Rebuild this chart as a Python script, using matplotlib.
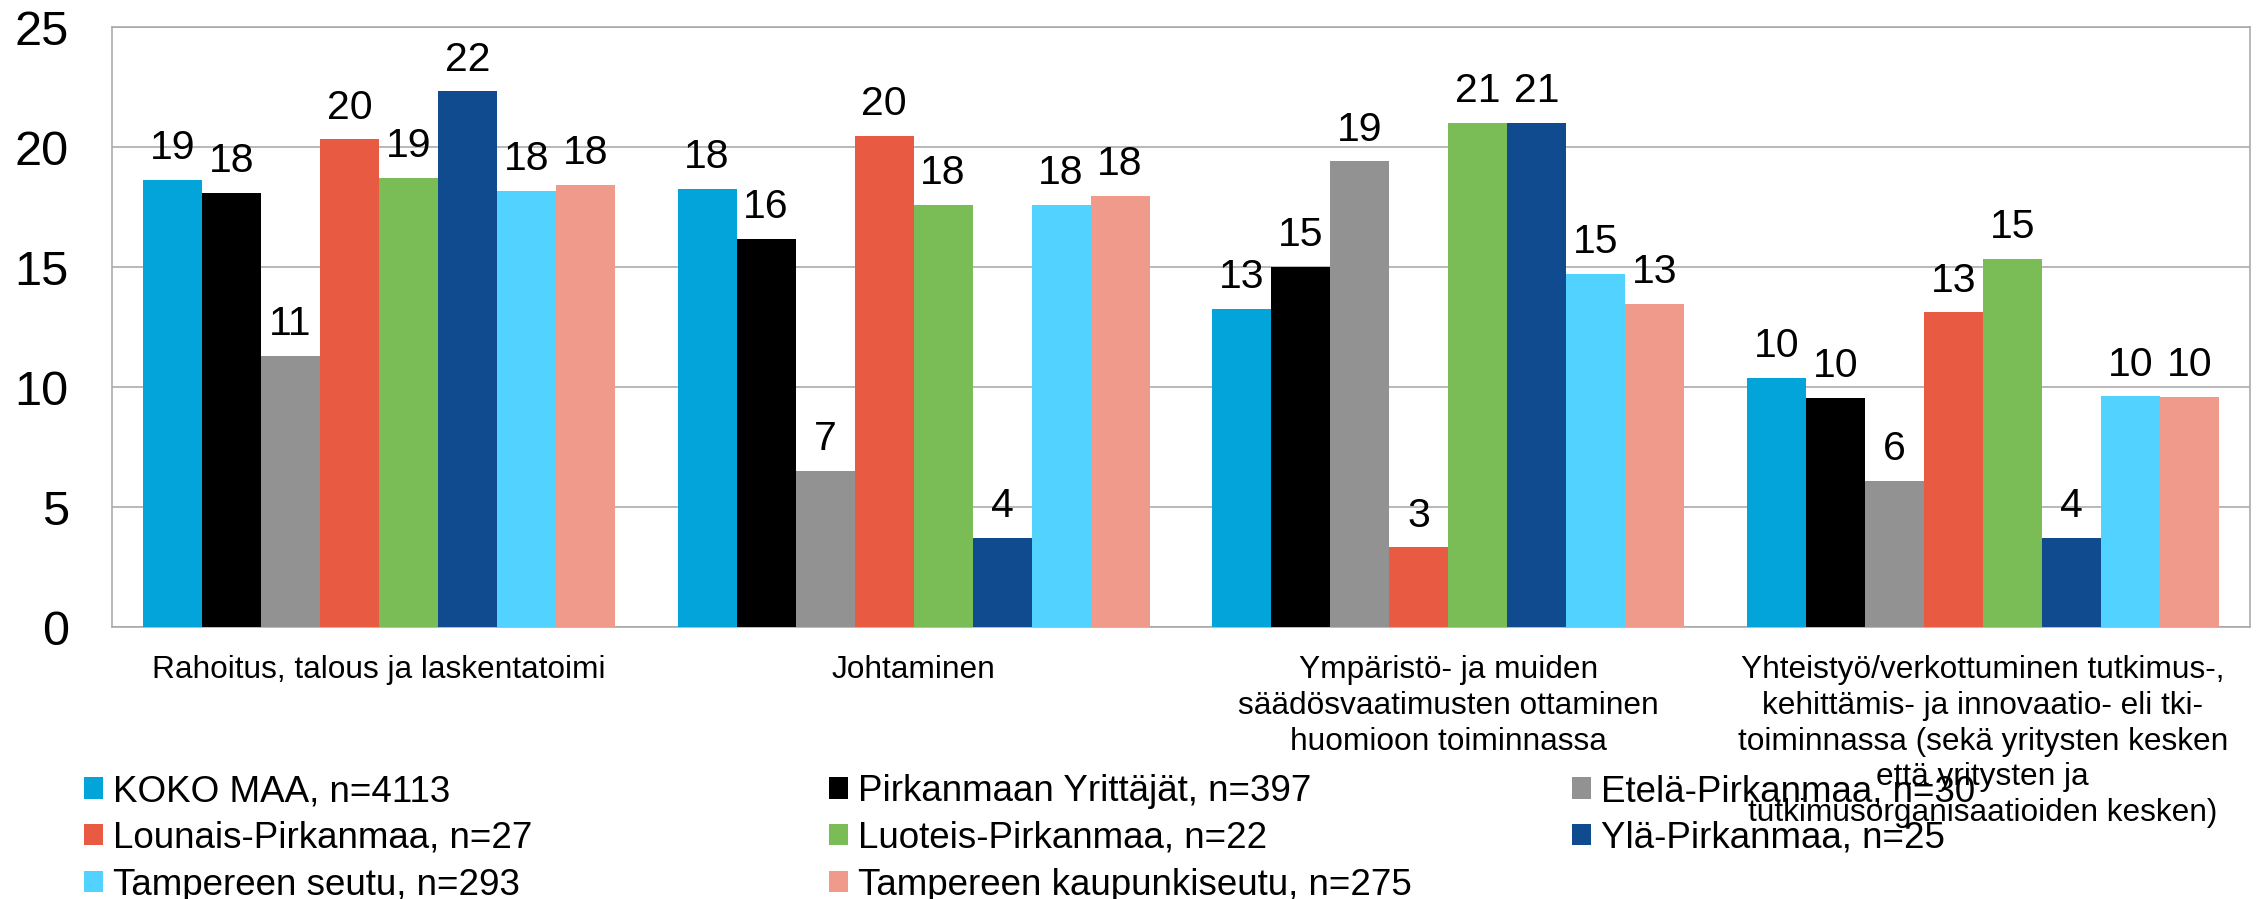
import matplotlib
matplotlib.use("Agg")
import matplotlib.pyplot as plt
import numpy as np
from matplotlib.patches import Patch

plt.rcParams['font.family'] = ['Liberation Sans', 'DejaVu Sans']

categories = [
    "Rahoitus, talous ja laskentatoimi",
    "Johtaminen",
    "Ympäristö- ja muiden\nsäädösvaatimusten ottaminen\nhuomioon toiminnassa",
    "Yhteistyö/verkottuminen tutkimus-,\nkehittämis- ja innovaatio- eli tki-\ntoiminnassa (sekä yritysten kesken\nettä yritysten ja\ntutkimusorganisaatioiden kesken)",
]

series_names = [
    "KOKO MAA, n=4113",
    "Pirkanmaan Yrittäjät, n=397",
    "Etelä-Pirkanmaa, n=30",
    "Lounais-Pirkanmaa, n=27",
    "Luoteis-Pirkanmaa, n=22",
    "Ylä-Pirkanmaa, n=25",
    "Tampereen seutu, n=293",
    "Tampereen kaupunkiseutu, n=275",
]

koko_maa = [18.64, 18.28, 13.26, 10.40]
pirkanmaan_yrittajat = [18.10, 16.17, 15.03, 9.55]
etela_pirkanmaa = [11.31, 6.52, 19.41, 6.09]
lounais_pirkanmaa = [20.33, 20.47, 3.33, 13.12]
luoteis_pirkanmaa = [18.72, 17.59, 21.03, 15.34]
yla_pirkanmaa = [22.33, 3.71, 21.00, 3.71]
tampereen_seutu = [18.17, 17.59, 14.74, 9.62]
tampereen_kaupunkiseutu = [18.45, 17.98, 13.48, 9.59]

series_values = [koko_maa, pirkanmaan_yrittajat, etela_pirkanmaa, lounais_pirkanmaa,
                 luoteis_pirkanmaa, yla_pirkanmaa, tampereen_seutu, tampereen_kaupunkiseutu]

colors = ["#02A4DA", "#000000", "#929292", "#E85A41",
          "#7ABC55", "#114B8F", "#52D3FF", "#F09A8B"]

yticks = [0, 5, 10, 15, 20, 25]

W, H = 2260, 899
fig = plt.figure(figsize=(W / 100, H / 100), dpi=100)
ax_left, ax_right, ax_top, ax_bottom = 111.7, 2250, 27.3, 627.3
ax = fig.add_axes([ax_left / W, 1 - ax_bottom / H, (ax_right - ax_left) / W, (ax_bottom - ax_top) / H])

n_series = len(series_values)
x = np.arange(len(categories))
group_width = 0.883
bw = group_width / n_series

handles = []
for i, (vals, col, name) in enumerate(zip(series_values, colors, series_names)):
    pos = x - group_width / 2 + bw * (i + 0.5)
    bars = ax.bar(pos, vals, width=bw, color=col, zorder=3, linewidth=0)
    handles.append(Patch(facecolor=col, label=name))
    for b, v in zip(bars, vals):
        ax.annotate(f"{round(v):d}", (b.get_x() + b.get_width() / 2, v),
                    xytext=(0, 15), textcoords="offset points",
                    ha="center", va="baseline", fontsize=29.5, zorder=4)

ax.set_xlim(-0.5, len(categories) - 0.5)
ax.set_ylim(0, 25)
ax.set_yticks(yticks)
ax.set_yticklabels([str(t) for t in yticks], fontsize=35)
ax.set_xticks(x)
ax.set_xticklabels(categories, fontsize=22.8, linespacing=1.25, va="top", ha="center")
ax.tick_params(axis="y", length=0, pad=31)
ax.tick_params(axis="x", length=0, pad=20)
ax.grid(axis="y", color="#A6A6A6", linewidth=1.1, zorder=0)
for s in ax.spines.values():
    s.set_color("#A6A6A6")
    s.set_linewidth(1.1)

legend_cols = [
    ([0, 3, 6], 84),
    ([1, 4, 7], 829),
    ([2, 5], 1572),
]
for idxs, xpx in legend_cols:
    fig.legend([handles[i] for i in idxs], [series_names[i] for i in idxs],
               loc="upper left", bbox_to_anchor=(xpx / W, 1 - 774 / H),
               frameon=False, fontsize=26.5, handlelength=0.52, handleheight=0.52,
               handletextpad=0.27, labelspacing=0.32, borderpad=0, borderaxespad=0)

fig.savefig("out.png", dpi=100)
